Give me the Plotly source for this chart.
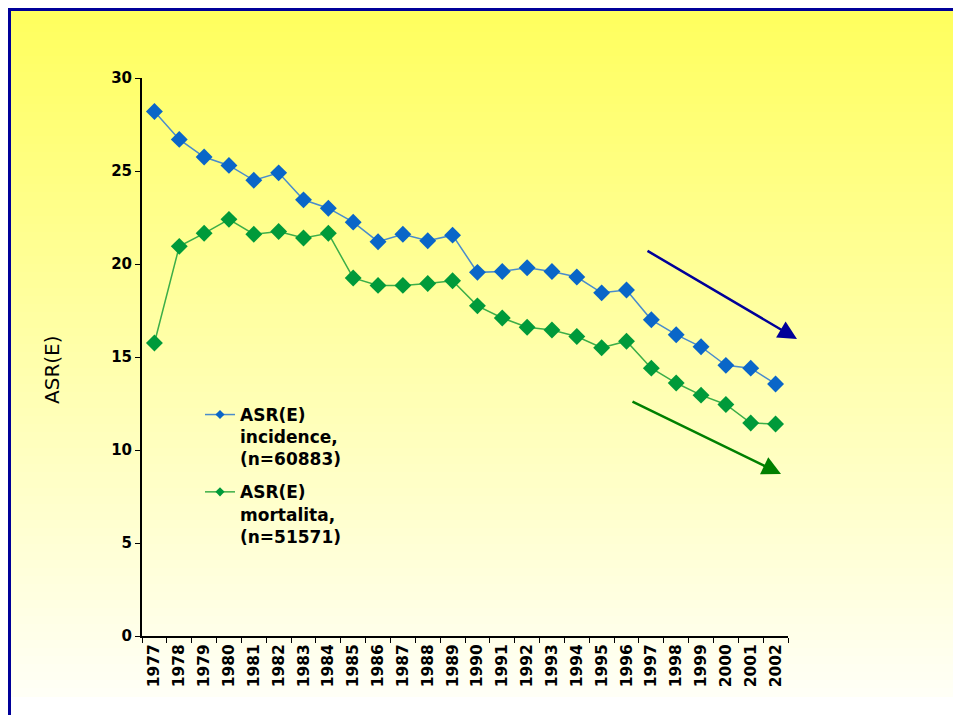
import plotly.graph_objects as go

# values
years = [str(y) for y in range(1977, 2003)]
incidence = [28.2, 26.7, 25.75, 25.3, 24.5, 24.9, 23.45, 23.0, 22.25, 21.2,
             21.6, 21.25, 21.55, 19.55, 19.6, 19.8, 19.6, 19.3, 18.45, 18.6,
             17.0, 16.2, 15.55, 14.55, 14.4, 13.55]
mortality = [15.75, 20.95, 21.65, 22.4, 21.6, 21.75, 21.4, 21.65, 19.25, 18.85,
             18.85, 18.95, 19.1, 17.75, 17.1, 16.6, 16.45, 16.1, 15.5, 15.85,
             14.4, 13.6, 12.95, 12.45, 11.45, 11.4]
y_ticks = [0, 5, 10, 15, 20, 25, 30]
names = ["ASR(E)<br>incidence,<br>(n=60883)", "ASR(E)<br>mortalita,<br>(n=51571)"]

# the page puts the figure 8px in from the corner, so work in page pixels
OFF = 8
W, H = 961 - 2 * OFF, 723 - 2 * OFF
L, R, T, B = 142, 788, 78, 636  # plot area, page pixels


def px(x):
    return (x - L) / (R - L)


def py(y):
    return (B - y) / (B - T)


FONT = "DejaVu Sans"
blue_line, blue_mk = "#4a8ccc", "#0a66c8"
green_line, green_mk = "#3cae48", "#009a3a"

fig = go.Figure()
fig.add_trace(go.Scatter(
    x=years, y=incidence, mode="lines+markers", showlegend=False,
    line=dict(color=blue_line, width=1.5),
    marker=dict(symbol="diamond", size=13, color=blue_mk),
))
fig.add_trace(go.Scatter(
    x=years, y=mortality, mode="lines+markers", showlegend=False,
    line=dict(color=green_line, width=1.5),
    marker=dict(symbol="diamond", size=13, color=green_mk),
))
# legend entries with the small symbols of the slide
for i, (name, lc, mc) in enumerate([(names[0], blue_line, blue_mk),
                                    (names[1], green_line, green_mk)]):
    fig.add_trace(go.Scatter(
        x=[None], y=[None], mode="lines+markers", name=name, legendgroup=f"g{i}",
        line=dict(color=lc, width=1.5),
        marker=dict(symbol="diamond", size=7, color=mc),
    ))

# background: yellow gradient fading to white, blue frame
shapes = []
g0, g1, step = 8, 695, 8
for y in range(g0, g1, step):
    t = (y - g0) / (g1 - g0)
    b = int(0x5e + (0xf8 - 0x5e) * t)
    shapes.append(dict(type="rect", xref="paper", yref="paper", layer="below",
                       x0=px(0), x1=px(975), y0=py(y + step + 1), y1=py(y - 10 if y == g0 else y),
                       fillcolor=f"rgb(255,255,{b})", line_width=0))
shapes.append(dict(type="rect", xref="paper", yref="paper", layer="below",
                   x0=px(0), x1=px(975), y0=py(OFF + 3), y1=py(0),
                   fillcolor="#000099", line_width=0))
shapes.append(dict(type="rect", xref="paper", yref="paper", layer="below",
                   x0=px(0), x1=px(11), y0=py(740), y1=py(0),
                   fillcolor="#000099", line_width=0))

annotations = [
    dict(text="ASR(E)", xref="paper", yref="paper", x=px(52), y=py(370),
         xanchor="center", yanchor="middle", textangle=-90, showarrow=False,
         font=dict(family=FONT, size=20, color="black")),
    dict(text="", xref="paper", yref="paper", x=px(797), y=py(339),
         ax=646 - 797, ay=250 - 339, showarrow=True, arrowhead=2,
         arrowsize=1.5, arrowwidth=2.5, arrowcolor="#000099"),
    dict(text="", xref="paper", yref="paper", x=px(781), y=py(474),
         ax=631 - 781, ay=401 - 474, showarrow=True, arrowhead=2,
         arrowsize=1.5, arrowwidth=2.5, arrowcolor="#008000"),
]

fig.update_layout(
    width=W, height=H,
    margin=dict(l=L - OFF, r=W - (R - OFF), t=T - OFF, b=H - (B - OFF), autoexpand=False),
    paper_bgcolor="white", plot_bgcolor="rgba(0,0,0,0)",
    shapes=shapes, annotations=annotations,
    font=dict(family=FONT, color="black"),
    showlegend=True,
    legend=dict(x=px(200), y=py(397), xanchor="left", yanchor="top", valign="top",
                bgcolor="rgba(0,0,0,0)", font=dict(family=FONT, size=17, weight="bold"),
                tracegroupgap=8, itemwidth=30),
)
fig.update_xaxes(
    type="category", range=[-0.5, len(years) - 0.5], showgrid=False,
    showline=True, linecolor="black", linewidth=2,
    ticks="outside", tickson="boundaries", ticklen=5, tickcolor="black",
    tickangle=-90, tickfont=dict(family=FONT, size=15.5, weight="bold"),
)
fig.update_yaxes(
    range=[0, 30], tickvals=y_ticks, showgrid=False, zeroline=False,
    showline=True, linecolor="black", linewidth=2,
    ticks="outside", ticklen=5, tickcolor="black",
    tickfont=dict(family=FONT, size=15, weight="bold"),
)

fig.write_html("out.html")
